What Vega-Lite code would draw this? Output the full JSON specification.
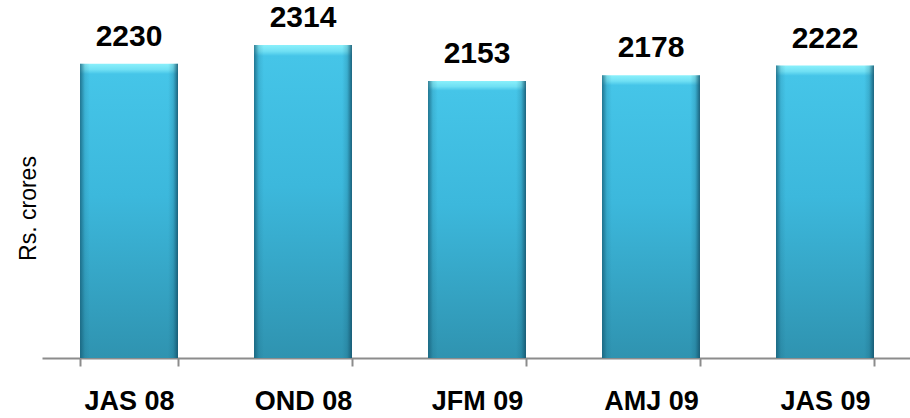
{
  "$schema": "https://vega.github.io/schema/vega-lite/v6.json",
  "width": 870,
  "height": 358,
  "autosize": "none",
  "padding": {"left": 42, "top": 0, "right": 0, "bottom": 60},
  "background": "white",
  "config": {"view": {"stroke": null}, "font": "Liberation Sans"},
  "data": {
    "values": [
      {"quarter": "JAS 08", "value": 2230},
      {"quarter": "OND 08", "value": 2314},
      {"quarter": "JFM 09", "value": 2153},
      {"quarter": "AMJ 09", "value": 2178},
      {"quarter": "JAS 09", "value": 2222}
    ]
  },
  "encoding": {
    "x": {
      "field": "quarter",
      "type": "nominal",
      "sort": null,
      "scale": {"paddingInner": 0.437, "paddingOuter": 0.2185},
      "axis": {
        "title": null,
        "labelAngle": 0,
        "labelFont": "Liberation Sans",
        "labelFontWeight": "bold",
        "labelFontSize": 27,
        "labelColor": "black",
        "tickBand": "extent",
        "tickSize": 8,
        "tickColor": "#8c8c8c",
        "tickWidth": 2,
        "domainColor": "#8c8c8c",
        "domainWidth": 2,
        "labelPadding": 22,
        "labelBaseline": "top"
      }
    },
    "y": {
      "field": "value",
      "type": "quantitative",
      "scale": {"domain": [914, 2515], "nice": false, "zero": false},
      "axis": {
        "domain": false,
        "ticks": false,
        "labels": false,
        "grid": false,
        "title": "Rs. crores",
        "titleFont": "Liberation Sans",
        "titleFontSize": 23,
        "titleFontWeight": "normal",
        "titleColor": "black",
        "titleX": -14,
        "titleY": 208,
        "titleAngle": -90,
        "titleBaseline": "middle",
        "titleAlign": "center"
      }
    }
  },
  "layer": [
    {
      "mark": {
        "type": "bar",
        "color": {
          "gradient": "linear",
          "x1": 0, "y1": 0, "x2": 0, "y2": 1,
          "stops": [
            {"offset": 0, "color": "#8af0fb"},
            {"offset": 0.02, "color": "#70e0f4"},
            {"offset": 0.035, "color": "#45c5e8"},
            {"offset": 0.45, "color": "#3cb8dc"},
            {"offset": 1, "color": "#2f93b0"}
          ]
        }
      },
      "encoding": {"y2": {"datum": 914}}
    },
    {
      "mark": {
        "type": "bar",
        "color": {
          "gradient": "linear",
          "x1": 0, "y1": 0, "x2": 1, "y2": 0,
          "stops": [
            {"offset": 0, "color": "rgba(20,90,115,0.75)"},
            {"offset": 0.05, "color": "rgba(20,90,115,0.15)"},
            {"offset": 0.1, "color": "rgba(20,90,115,0)"},
            {"offset": 0.9, "color": "rgba(20,90,115,0)"},
            {"offset": 0.95, "color": "rgba(20,90,115,0.2)"},
            {"offset": 1, "color": "rgba(20,80,105,0.85)"}
          ]
        }
      },
      "encoding": {"y2": {"datum": 914}}
    },
    {
      "mark": {
        "type": "text",
        "dy": -18,
        "baseline": "alphabetic",
        "fontSize": 30,
        "fontWeight": "bold",
        "font": "Liberation Sans",
        "color": "black"
      },
      "encoding": {"text": {"field": "value", "type": "quantitative"}}
    }
  ]
}
